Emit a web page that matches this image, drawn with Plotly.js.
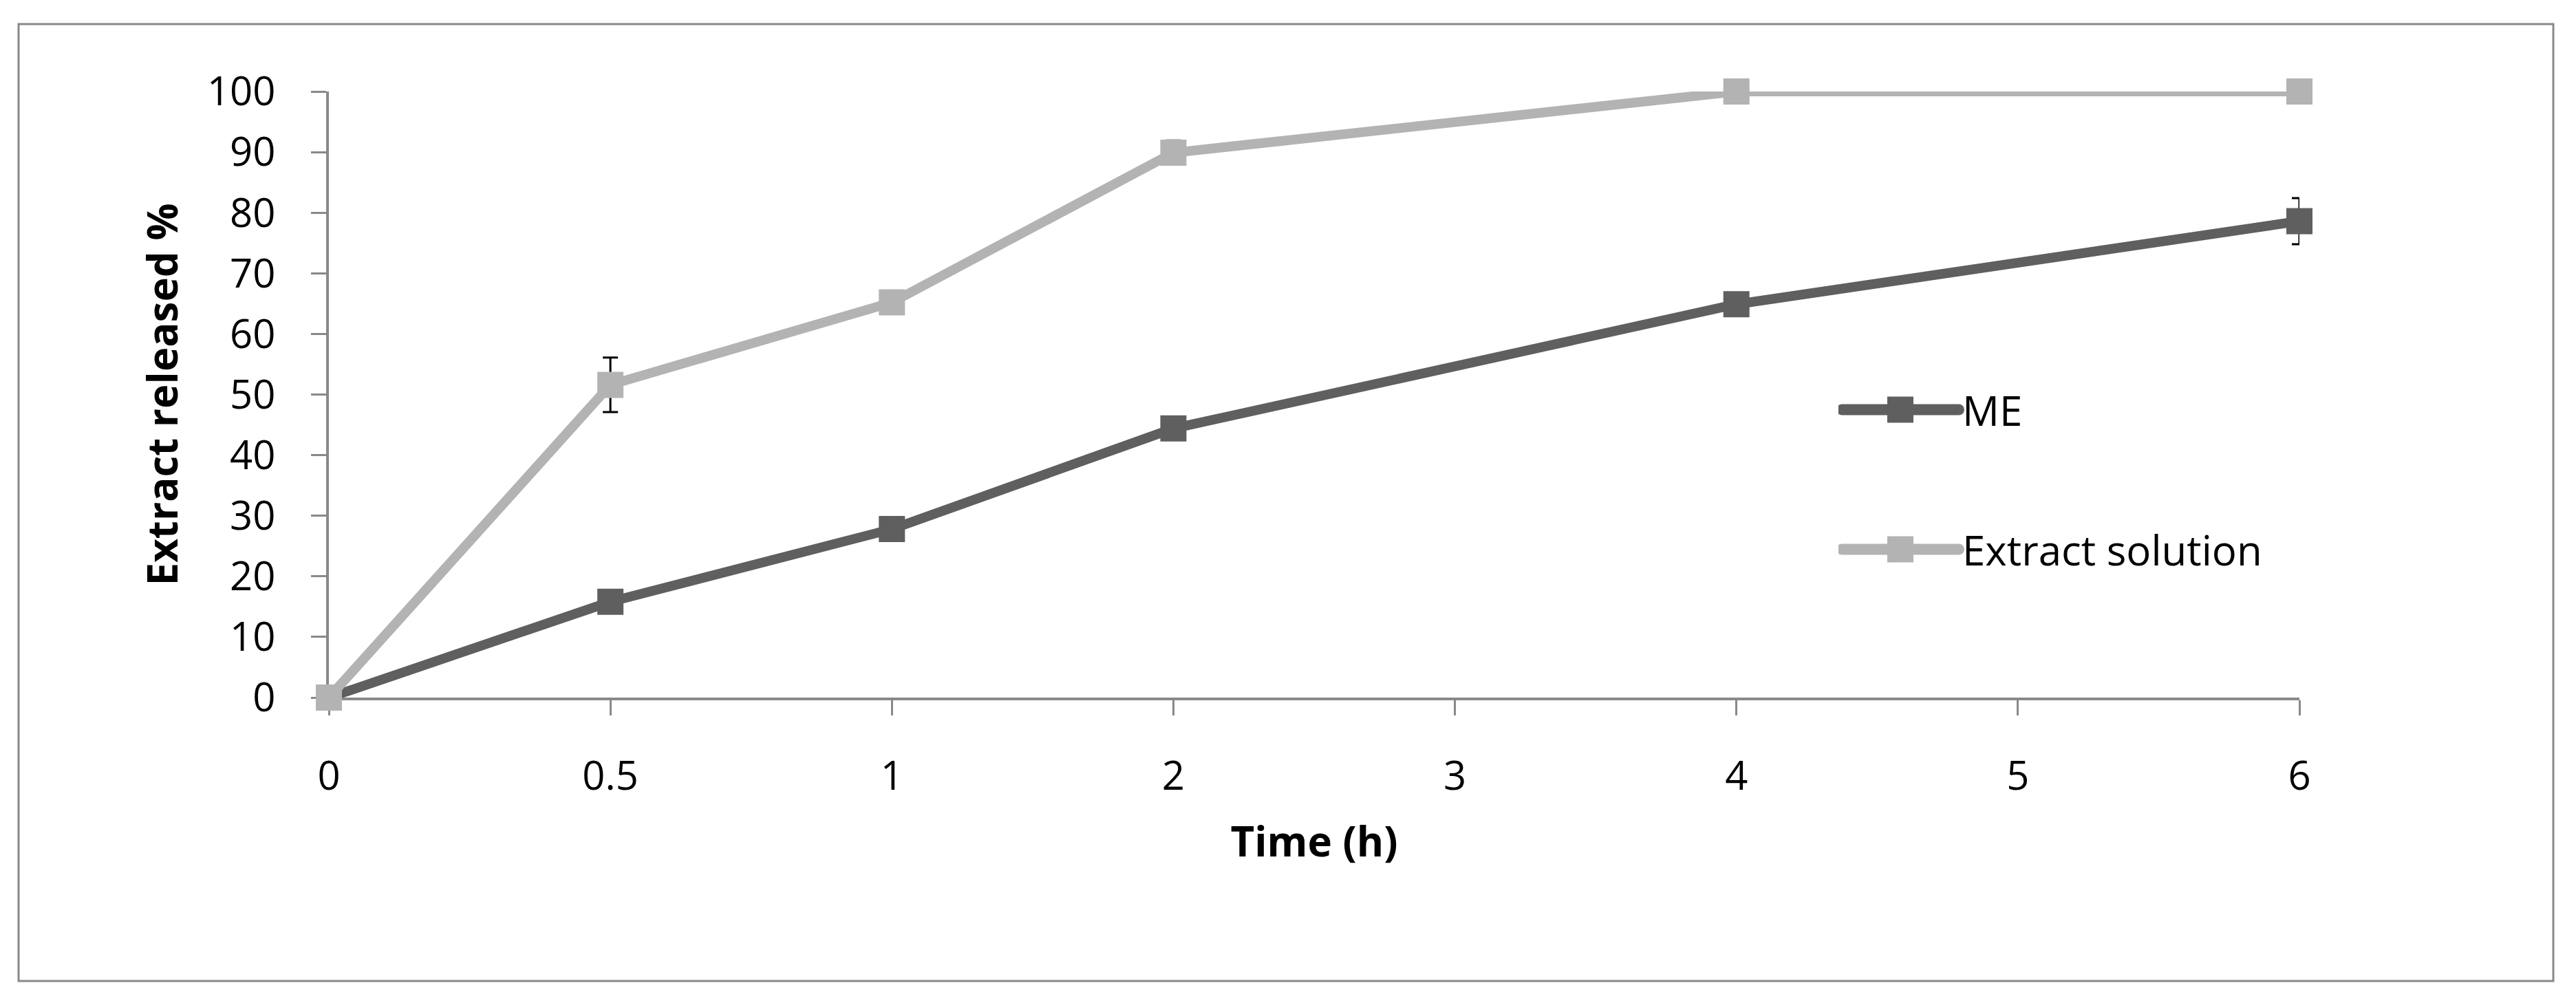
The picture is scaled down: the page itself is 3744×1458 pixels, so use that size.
<!DOCTYPE html>
<html>
<head>
<meta charset="utf-8">
<script src="https://cdn.plot.ly/plotly-3.0.1.min.js"></script>
<style>
  html, body { margin: 0; padding: 0; background: #ffffff; }
  #chart { width: 3744px; height: 1458px; }
</style>
</head>
<body>
<div id="chart"></div>
<script>
// ---- data ----
const tickLabels = ['0', '0.5', '1', '2', '3', '4', '5', '6'];
const times = [0, 0.5, 1, 2, 4, 6];
const meValues = [0, 15.8, 27.8, 44.4, 64.9, 78.6];
const meErrors = [0, 0.8, 0.8, 1.4, 1.0, 3.8];
const solValues = [0, 51.6, 65.2, 89.9, 100, 100];
const solErrors = [0, 4.5, 0.8, 2.0, 0.5, 0.3];
const seriesNames = ['ME', 'Extract solution'];
const xTitle = 'Time (h)';
const yTitle = 'Extract released %';

// ---- layout constants (pixels) ----
const W = 3744, H = 1458;
const plotL = 478, plotR = 3342, plotT = 133, plotB = 1014;
const gray = '#898989';
const meColor = '#5f5f5f';
const solColor = '#b3b3b3';
const FONT = '"Open Sans", "Noto Sans", sans-serif';

const xPos = times.map(t => tickLabels.indexOf(String(t)));
const tickVals = tickLabels.map((_, i) => i);

function px2paperX(px) { return (px - plotL) / (plotR - plotL); }
function px2paperY(py) { return (plotB - py) / (plotB - plotT); }

function series(name, ys, errs, color, group) {
  return {
    type: 'scatter',
    mode: 'lines+markers',
    name: name,
    legendgroup: group,
    x: xPos,
    y: ys,
    cliponaxis: false,
    line: { color: color, width: 14 },
    marker: { symbol: 'square', size: 38, color: color },
    error_y: { type: 'data', array: errs, visible: true, color: '#000000', thickness: 3, width: 11 },
    hoverinfo: 'x+y'
  };
}

const data = [
  series(seriesNames[0], meValues, meErrors, meColor, 'g1'),
  series(seriesNames[1], solValues, solErrors, solColor, 'g2')
];

const layout = {
  width: W,
  height: H,
  paper_bgcolor: '#ffffff',
  plot_bgcolor: '#ffffff',
  margin: { l: plotL, r: W - plotR, t: plotT, b: H - plotB, pad: 0 },
  font: { family: FONT, size: 58, color: '#000000' },
  showlegend: true,
  legend: {
    x: px2paperX(2672),
    y: px2paperY(550),
    xanchor: 'left',
    yanchor: 'top',
    bgcolor: 'rgba(0,0,0,0)',
    borderwidth: 0,
    font: { family: FONT, size: 60, color: '#000000' },
    traceorder: 'grouped',
    tracegroupgap: 122,
    itemwidth: 170,
    itemsizing: 'trace'
  },
  xaxis: {
    type: 'linear',
    range: [0, tickLabels.length - 1],
    tickmode: 'array',
    tickvals: tickVals,
    ticktext: tickLabels,
    ticks: 'outside',
    ticklen: 22,
    tickwidth: 3,
    tickcolor: gray,
    showline: true,
    linecolor: gray,
    linewidth: 4,
    showgrid: false,
    zeroline: false,
    layer: 'below traces',
    ticklabelstandoff: 38,
    tickfont: { family: FONT, size: 58, color: '#000000' },
    title: { text: xTitle, standoff: 40, font: { family: FONT, size: 60, color: '#000000', weight: 'bold' } }
  },
  yaxis: {
    range: [0, 100],
    tickmode: 'linear',
    tick0: 0,
    dtick: 10,
    ticks: 'outside',
    ticklen: 22,
    tickwidth: 3,
    tickcolor: gray,
    showline: true,
    linecolor: gray,
    linewidth: 4,
    showgrid: false,
    zeroline: false,
    layer: 'below traces',
    ticklabelstandoff: 40,
    tickfont: { family: FONT, size: 58, color: '#000000' },
    title: { text: yTitle, standoff: 24, font: { family: FONT, size: 60, color: '#000000', weight: 'bold' } }
  },
  shapes: [
    {
      type: 'rect',
      xref: 'paper', yref: 'paper',
      x0: px2paperX(27), x1: px2paperX(3711),
      y0: px2paperY(1426), y1: px2paperY(35),
      line: { color: gray, width: 3 },
      fillcolor: 'rgba(0,0,0,0)',
      layer: 'below'
    }
  ]
};

Plotly.newPlot('chart', data, layout, { displayModeBar: false, staticPlot: true }).then(function (gd) {
  // enlarge legend symbols to match the reference's thick swatches
  gd.querySelectorAll('.legend .legendlines path').forEach(function (p) {
    p.style.strokeWidth = '16px';
    p.style.strokeLinecap = 'round';
  });
  gd.querySelectorAll('.legend .legendpoints path.scatterpts').forEach(function (p) {
    p.setAttribute('d', 'M19,19H-19V-19H19Z');
  });
});
</script>
</body>
</html>
